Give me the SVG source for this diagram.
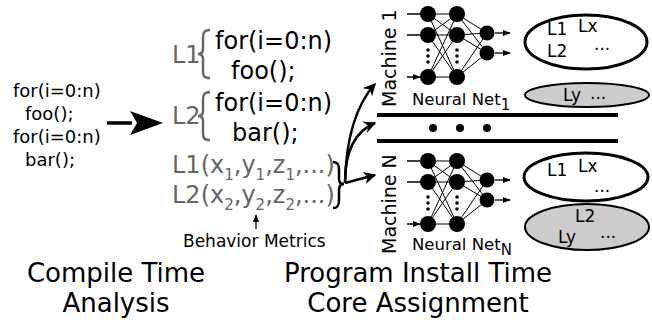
<svg xmlns="http://www.w3.org/2000/svg" width="652" height="320" viewBox="0 0 652 320">
<style>
text{font-family:"DejaVu Sans","Liberation Sans",sans-serif;fill:#000}
.code{font-size:18px}
.mid{font-size:24px}
.gray{fill:#666}
.lab{font-size:17px}
.big{font-size:26px}
.node{fill:#000}
.edge{stroke:#000;stroke-width:1;fill:none}
.gb{stroke:#666;stroke-width:2.5;fill:none}
.ell{stroke:#000;stroke-width:3;fill:#fff}
.ellg{stroke:#000;stroke-width:2;fill:#ccc}
.conn{stroke:#000;stroke-width:2.5;fill:none}
.thin{stroke:#000;stroke-width:1.3;fill:none}
</style>
<defs>
<marker id="ah" viewBox="0 0 10 10" refX="9" refY="5" markerWidth="5" markerHeight="5" orient="auto" markerUnits="strokeWidth">
<path d="M0,0 L10,5 L0,10 L3,5 z" fill="#000"/>
</marker>
<marker id="sm" viewBox="0 0 10 10" refX="9" refY="5" markerWidth="6" markerHeight="6" orient="auto" markerUnits="strokeWidth">
<path d="M0,1 L10,5 L0,9 z" fill="#000"/>
</marker>
</defs>

<g id="source-code">
<text class="code" x="13" y="97">for(i=0:n)</text>
<text class="code" x="25" y="120">foo();</text>
<text class="code" x="13" y="143">for(i=0:n)</text>
<text class="code" x="25" y="166">bar();</text>
</g>

<g id="loops">
<text class="mid gray" x="172" y="63">L1</text>
<path class="gb" d="M210,30 C204,30 203,33 203,38 L203,49 C203,53 201,54 198,54 C201,54 203,55 203,59 L203,71 C203,76 204,78 210,78"/>
<text class="mid" x="215" y="49">for(i=0:n)</text>
<text class="mid" x="231" y="79">foo();</text>
<text class="mid gray" x="172" y="124">L2</text>
<path class="gb" d="M210,92 C204,92 203,95 203,100 L203,111 C203,115 201,116 198,116 C201,116 203,117 203,121 L203,133 C203,138 204,140 210,140"/>
<text class="mid" x="215" y="111">for(i=0:n)</text>
<text class="mid" x="232" y="141">bar();</text>
</g>

<g id="metrics">
<text class="mid gray" x="172" y="173">L1(x<tspan font-size="15" dy="7">1</tspan><tspan dy="-7">,y</tspan><tspan font-size="15" dy="7">1</tspan><tspan dy="-7">,z</tspan><tspan font-size="15" dy="7">1</tspan><tspan dy="-7">,...)</tspan></text>
<text class="mid gray" x="172" y="203">L2(x<tspan font-size="15" dy="7">2</tspan><tspan dy="-7">,y</tspan><tspan font-size="15" dy="7">2</tspan><tspan dy="-7">,z</tspan><tspan font-size="15" dy="7">2</tspan><tspan dy="-7">,...)</tspan></text>
<path stroke="#000" stroke-width="2.5" fill="none" d="M333,162 C338,162 339,165 339,170 L339,179 C339,183 341,184 344,184 C341,184 339,186 339,190 L339,200 C339,205 338,208 333,208"/>
<text x="183" y="247" font-size="17">Behavior Metrics</text>
</g>

<g id="machine-1">
<text transform="translate(396,107) rotate(-90)" style="font-size:19px">Machine 1</text>
<path class="edge" d="M428,14 L457,14 M428,14 L457,35 M428,14 L457,77 M428,35 L457,14 M428,35 L457,35 M428,35 L457,77 M428,77 L457,14 M428,77 L457,35 M428,77 L457,77 M457,14 L487,33 M457,14 L487,53 M457,35 L487,33 M457,35 L487,53 M457,77 L487,33 M457,77 L487,53"/>
<circle class="node" cx="428" cy="14" r="8"/><circle class="node" cx="428" cy="35" r="8"/><circle class="node" cx="428" cy="77" r="8"/>
<circle class="node" cx="457" cy="14" r="8"/><circle class="node" cx="457" cy="35" r="8"/><circle class="node" cx="457" cy="77" r="8"/>
<circle class="node" cx="487" cy="33" r="7.5"/><circle class="node" cx="487" cy="53" r="7.5"/>
<circle class="node" cx="428" cy="50" r="1.8"/><circle class="node" cx="428" cy="56" r="1.8"/><circle class="node" cx="428" cy="62" r="1.8"/>
<circle class="node" cx="457" cy="50" r="1.8"/><circle class="node" cx="457" cy="56" r="1.8"/><circle class="node" cx="457" cy="62" r="1.8"/>
<path class="thin" marker-end="url(#sm)" d="M407,14 L420,14 M407,35 L420,35 M407,77 L420,77"/>
<path class="thin" marker-end="url(#sm)" d="M495,33 L510,33"/>
<path class="thin" marker-end="url(#sm)" d="M495,53 L510,53"/>
<text x="412" y="105" font-size="16.5">Neural Net<tspan font-size="15" dy="5">1</tspan></text>
<ellipse class="ell" cx="586" cy="42" rx="61" ry="27"/>
<text class="lab" x="547" y="35">L1</text>
<text class="lab" x="578" y="32">Lx</text>
<text class="lab" x="547" y="57">L2</text>
<text class="lab" x="594" y="50">...</text>
<ellipse class="ellg" cx="587" cy="95" rx="62" ry="12"/>
<text class="lab" x="563" y="101">Ly</text>
<text class="lab" x="590" y="99">...</text>
</g>

<g id="separator">
<line x1="377" y1="115" x2="618" y2="115" stroke="#000" stroke-width="4"/>
<circle cx="433" cy="128" r="4" fill="#000"/><circle cx="460" cy="128" r="4" fill="#000"/><circle cx="487" cy="128" r="4" fill="#000"/>
<line x1="377" y1="141" x2="618" y2="141" stroke="#000" stroke-width="4"/>
</g>

<g id="machine-n">
<text transform="translate(396,254) rotate(-90)" style="font-size:19px">Machine N</text>
<path class="edge" d="M428,161 L457,161 M428,161 L457,182 M428,161 L457,224 M428,182 L457,161 M428,182 L457,182 M428,182 L457,224 M428,224 L457,161 M428,224 L457,182 M428,224 L457,224 M457,161 L487,180 M457,161 L487,200 M457,182 L487,180 M457,182 L487,200 M457,224 L487,180 M457,224 L487,200"/>
<circle class="node" cx="428" cy="161" r="8"/><circle class="node" cx="428" cy="182" r="8"/><circle class="node" cx="428" cy="224" r="8"/>
<circle class="node" cx="457" cy="161" r="8"/><circle class="node" cx="457" cy="182" r="8"/><circle class="node" cx="457" cy="224" r="8"/>
<circle class="node" cx="487" cy="180" r="7.5"/><circle class="node" cx="487" cy="200" r="7.5"/>
<circle class="node" cx="428" cy="197" r="1.8"/><circle class="node" cx="428" cy="203" r="1.8"/><circle class="node" cx="428" cy="209" r="1.8"/>
<circle class="node" cx="457" cy="197" r="1.8"/><circle class="node" cx="457" cy="203" r="1.8"/><circle class="node" cx="457" cy="209" r="1.8"/>
<path class="thin" marker-end="url(#sm)" d="M407,161 L420,161 M407,182 L420,182 M407,224 L420,224"/>
<path class="thin" marker-end="url(#sm)" d="M495,180 L510,180"/>
<path class="thin" marker-end="url(#sm)" d="M495,200 L510,200"/>
<text x="412" y="250" font-size="16.5">Neural Net<tspan font-size="15" dy="5">N</tspan></text>
<ellipse class="ell" cx="586" cy="177" rx="62" ry="24"/>
<text class="lab" x="547" y="176">L1</text>
<text class="lab" x="578" y="172">Lx</text>
<text class="lab" x="594" y="192">...</text>
<ellipse class="ellg" cx="587" cy="227" rx="62" ry="23"/>
<text class="lab" x="575" y="222">L2</text>
<text class="lab" x="558" y="243">Ly</text>
<text class="lab" x="600" y="238">...</text>
</g>

<g id="connectors">
<path d="M107,123 L132,123" stroke="#000" stroke-width="3.5"/>
<path d="M130,111 L163,123 L130,135 L137,123 z" fill="#000"/>
<path class="conn" marker-end="url(#ah)" d="M345,183 C346,140 356,105 375,84"/>
<path class="conn" marker-end="url(#ah)" d="M345,183 C345,155 353,132 375,123"/>
<path class="conn" marker-end="url(#ah)" d="M345,183 L375,175"/>
<path class="thin" marker-end="url(#sm)" d="M256,229 L256,215"/>
</g>

<g id="phase-labels">
<text class="big" x="116" y="282" text-anchor="middle">Compile Time</text>
<text class="big" x="116" y="312" text-anchor="middle">Analysis</text>
<text class="big" x="418" y="282" text-anchor="middle">Program Install Time</text>
<text class="big" x="418" y="312" text-anchor="middle">Core Assignment</text>
</g>
</svg>
